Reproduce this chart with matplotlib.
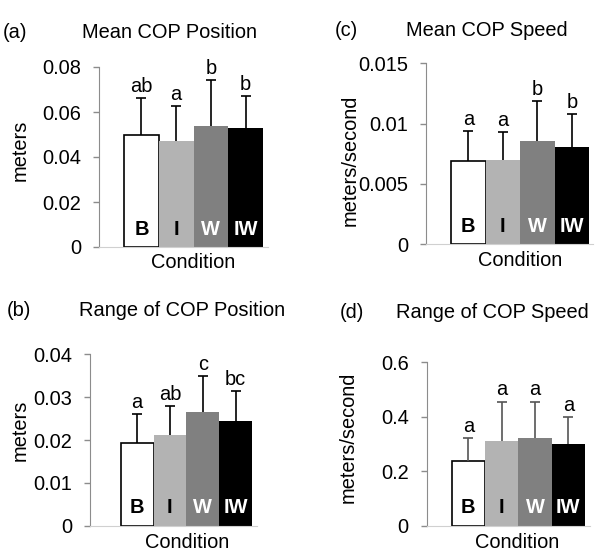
import matplotlib.pyplot as plt

plt.rcParams['font.family'] = ['Liberation Sans', 'DejaVu Sans']

conditions = ["B", "I", "W", "IW"]
bar_colors = ["white", "#b3b3b3", "#808080", "black"]
label_colors = ["black", "black", "white", "white"]

# (a) Mean COP Position
mean_pos = [0.0498, 0.0471, 0.0540, 0.0530]
mean_pos_err = [0.0166, 0.0156, 0.0202, 0.0142]
mean_pos_letters = ["ab", "a", "b", "b"]

# (b) Range of COP Position
range_pos = [0.0194, 0.0212, 0.0265, 0.0245]
range_pos_err = [0.0067, 0.0067, 0.0085, 0.0069]
range_pos_letters = ["a", "ab", "c", "bc"]

# (c) Mean COP Speed
mean_speed = [0.0069, 0.0070, 0.0086, 0.0081]
mean_speed_err = [0.0025, 0.0023, 0.0033, 0.0027]
mean_speed_letters = ["a", "a", "b", "b"]

# (d) Range of COP Speed
range_speed = [0.239, 0.311, 0.322, 0.301]
range_speed_err = [0.084, 0.145, 0.134, 0.099]
range_speed_letters = ["a", "a", "a", "a"]

W, H = 600, 560
FS = 14.4
fig = plt.figure(figsize=(6, 5.6), dpi=100)


def panel(vals, errs, letters, ticks, ticklabels, ylabel, title, tag,
          axis_x, bar_left, bar_w, base_right, y_top, y0,
          title_xy, tag_xy, ylabel_xy, cond_xy, err_color="black"):
    ax = fig.add_axes([axis_x / W, 1 - y0 / H, (base_right - axis_x) / W, (y0 - y_top) / H])
    x = list(range(len(vals)))
    ax.bar(x, vals, width=1.0, color=bar_colors, edgecolor=["black", "none", "none", "none"],
           linewidth=1.2, zorder=2)
    eb = ax.errorbar(x, vals, yerr=[[0] * len(errs), errs], fmt="none", ecolor=err_color,
                     elinewidth=1.2, capsize=3.5, capthick=1.2, zorder=3)
    # only the upper half is drawn, so hide the caps sitting on the bar tops
    eb[1][0].set_visible(False)
    for xi, v, e, let in zip(x, vals, errs, letters):
        ax.annotate(let, (xi, v + e), xytext=(0, 1.5), textcoords="offset points",
                    ha="center", va="bottom", fontsize=FS)
    for xi, lbl, c in zip(x, conditions, label_colors):
        ax.annotate(lbl, (xi, 0), xytext=(0, 6), textcoords="offset points",
                    ha="center", va="bottom", fontsize=FS, fontweight="bold", color=c, zorder=4)
    left = -0.5 - (bar_left - axis_x) / bar_w
    right = 3.5 + (base_right - (bar_left + 4 * bar_w)) / bar_w
    ax.set_xlim(left, right)
    ax.set_ylim(ticks[0], ticks[-1])
    ax.set_yticks(ticks)
    ax.set_yticklabels(ticklabels)
    ax.set_xticks([])
    for s in ["top", "right"]:
        ax.spines[s].set_visible(False)
    ax.spines["left"].set_color("#8c8c8c")
    ax.spines["bottom"].set_color("#d0d0d0")
    ax.tick_params(axis="y", length=4, width=1, color="#8c8c8c", pad=9, labelsize=FS)
    fig.text(title_xy[0] / W, 1 - title_xy[1] / H, title, ha="center", va="center", fontsize=FS)
    fig.text(tag_xy[0] / W, 1 - tag_xy[1] / H, tag, ha="center", va="center", fontsize=FS)
    fig.text(ylabel_xy[0] / W, 1 - ylabel_xy[1] / H, ylabel, ha="center", va="center",
             rotation=90, fontsize=FS)
    fig.text(cond_xy[0] / W, 1 - cond_xy[1] / H, "Condition", ha="center", va="center", fontsize=FS)
    return ax


panel(mean_pos, mean_pos_err, mean_pos_letters,
      [0, 0.02, 0.04, 0.06, 0.08], ["0", "0.02", "0.04", "0.06", "0.08"],
      "meters", "Mean COP Position", "(a)",
      99, 124, 34.75, 268, 67, 247,
      (169, 32), (15, 32), (20, 150), (193, 262))

panel(mean_speed, mean_speed_err, mean_speed_letters,
      [0, 0.005, 0.01, 0.015], ["0", "0.005", "0.01", "0.015"],
      "meters/second", "Mean COP Speed", "(c)",
      426, 451, 34.5, 593, 63.3, 244.3,
      (487, 30), (346, 30), (350, 160), (520, 260))

panel(range_pos, range_pos_err, range_pos_letters,
      [0, 0.01, 0.02, 0.03, 0.04], ["0", "0.01", "0.02", "0.03", "0.04"],
      "meters", "Range of COP Position", "(b)",
      90, 120.7, 32.8, 257, 354.3, 525.7,
      (182.5, 310), (19, 310), (20, 430), (187, 542))

panel(range_speed, range_speed_err, range_speed_letters,
      [0, 0.2, 0.4, 0.6], ["0", "0.2", "0.4", "0.6"],
      "meters/second", "Range of COP Speed", "(d)",
      426.7, 451.7, 33.3, 590, 362.3, 525.7,
      (492, 312), (352, 312), (348, 437), (517, 542), err_color="#555555")

fig.savefig("out.png", dpi=100)
